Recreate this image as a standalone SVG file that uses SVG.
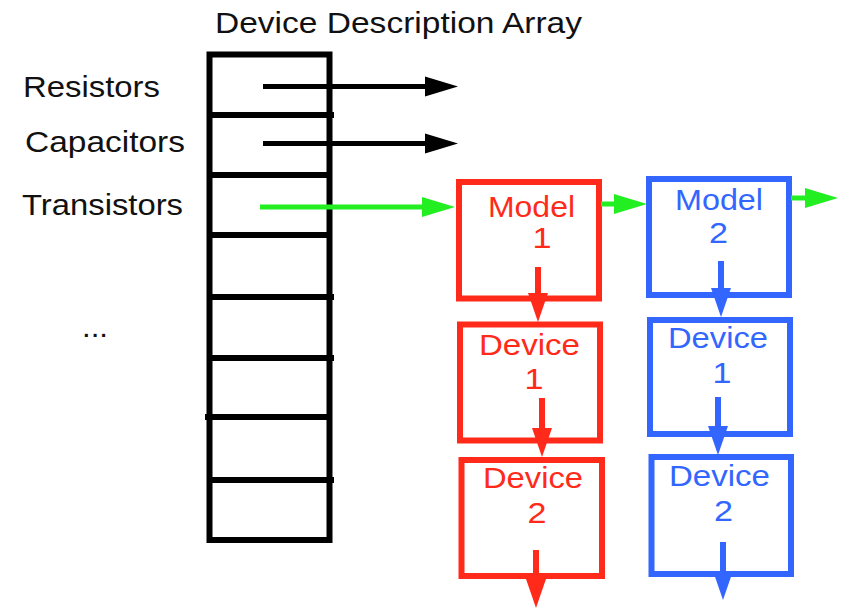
<svg xmlns="http://www.w3.org/2000/svg" width="842" height="610" viewBox="0 0 842 610">
  <style>
    text { font-family: "Liberation Sans", Arial, sans-serif; font-size: 29px; }
    .big { font-size: 30px; }
    .lbl { fill: #111111; }
    .red { fill: #ff2a1a; }
    .blue { fill: #3366ff; }
    .mid { text-anchor: middle; }
    .frame { fill: none; stroke: #000000; stroke-width: 6; }
    .rbox { fill: #ffffff; stroke: #ff2a1a; stroke-width: 6; }
    .bbox { fill: #ffffff; stroke: #3366ff; stroke-width: 6; }
    .k { stroke: #000000; stroke-width: 5; fill: none; }
    .g { stroke: #22ee22; stroke-width: 5; fill: none; }
    .r { stroke: #ff2a1a; stroke-width: 6; fill: none; }
    .b { stroke: #3366ff; stroke-width: 6; fill: none; }
  </style>
  <defs>
    <marker id="headK" markerUnits="userSpaceOnUse" markerWidth="34" markerHeight="20" refX="0" refY="10" orient="auto" overflow="visible">
      <path d="M0,0 L33,10 L0,20 z" fill="#000000"/>
    </marker>
    <marker id="headG" markerUnits="userSpaceOnUse" markerWidth="34" markerHeight="20" refX="0" refY="10" orient="auto" overflow="visible">
      <path d="M0,0 L33,10 L0,20 z" fill="#22ee22"/>
    </marker>
    <marker id="headR" markerUnits="userSpaceOnUse" markerWidth="30" markerHeight="20" refX="0" refY="10" orient="auto" overflow="visible">
      <path d="M0,0 L29,10 L0,20 z" fill="#ff2a1a"/>
    </marker>
    <marker id="headB" markerUnits="userSpaceOnUse" markerWidth="30" markerHeight="20" refX="0" refY="10" orient="auto" overflow="visible">
      <path d="M0,0 L29,10 L0,20 z" fill="#3366ff"/>
    </marker>
  </defs>

  <!-- title -->
  <text class="lbl big" x="215" y="33" textLength="367" lengthAdjust="spacingAndGlyphs">Device Description Array</text>

  <!-- device description array -->
  <g id="array">
    <rect class="frame" x="209.5" y="54.5" width="120" height="485.5"/>
    <line class="frame" x1="209.5" y1="115" x2="334" y2="115"/>
    <line class="frame" x1="209.5" y1="175" x2="331" y2="175"/>
    <line class="frame" x1="209.5" y1="235" x2="331" y2="235"/>
    <line class="frame" x1="209.5" y1="297" x2="334" y2="297"/>
    <line class="frame" x1="209.5" y1="358" x2="334" y2="358"/>
    <line class="frame" x1="205" y1="417" x2="331" y2="417"/>
    <line class="frame" x1="209.5" y1="480" x2="334" y2="480"/>
  </g>

  <!-- row labels -->
  <g id="labels">
    <text class="lbl big" x="23" y="97" textLength="137" lengthAdjust="spacingAndGlyphs">Resistors</text>
    <text class="lbl big" x="25" y="152" textLength="160" lengthAdjust="spacingAndGlyphs">Capacitors</text>
    <text class="lbl big" x="22" y="215" textLength="161" lengthAdjust="spacingAndGlyphs">Transistors</text>
    <text class="lbl" x="82" y="337" textLength="26" lengthAdjust="spacingAndGlyphs">...</text>
  </g>

  <!-- model 1 chain -->
  <g id="model1">
    <rect class="rbox" x="459" y="182" width="140" height="116.5"/>
    <text class="red" x="488" y="217" textLength="87" lengthAdjust="spacingAndGlyphs">Model</text>
    <text class="red mid" x="542" y="248" textLength="19" lengthAdjust="spacingAndGlyphs">1</text>
  </g>
  <g id="m1device1">
    <rect class="rbox" x="460" y="324.5" width="140" height="116"/>
    <text class="red" x="479" y="355" textLength="101" lengthAdjust="spacingAndGlyphs">Device</text>
    <text class="red mid" x="534" y="389" textLength="19" lengthAdjust="spacingAndGlyphs">1</text>
  </g>
  <g id="m1device2">
    <rect class="rbox" x="461.5" y="460" width="140.5" height="116"/>
    <text class="red" x="483" y="488" textLength="100" lengthAdjust="spacingAndGlyphs">Device</text>
    <text class="red mid" x="537" y="523" textLength="19" lengthAdjust="spacingAndGlyphs">2</text>
  </g>

  <!-- model 2 chain -->
  <g id="model2">
    <rect class="bbox" x="649" y="179" width="140" height="116"/>
    <text class="blue" x="675" y="210" textLength="88" lengthAdjust="spacingAndGlyphs">Model</text>
    <text class="blue mid" x="718.5" y="243" textLength="19" lengthAdjust="spacingAndGlyphs">2</text>
  </g>
  <g id="m2device1">
    <rect class="bbox" x="650" y="320" width="140" height="114"/>
    <text class="blue" x="668" y="348" textLength="100" lengthAdjust="spacingAndGlyphs">Device</text>
    <text class="blue mid" x="722" y="383" textLength="19" lengthAdjust="spacingAndGlyphs">1</text>
  </g>
  <g id="m2device2">
    <rect class="bbox" x="651.5" y="457" width="139.5" height="117"/>
    <text class="blue" x="669" y="486" textLength="101" lengthAdjust="spacingAndGlyphs">Device</text>
    <text class="blue mid" x="723.5" y="521" textLength="19" lengthAdjust="spacingAndGlyphs">2</text>
  </g>

  <!-- connectors -->
  <g id="connectors">
    <line class="k" x1="263" y1="86.5" x2="425" y2="86.5" marker-end="url(#headK)"/>
    <line class="k" x1="263" y1="143.5" x2="425" y2="143.5" marker-end="url(#headK)"/>
    <line class="g" x1="260" y1="207" x2="422" y2="207" marker-end="url(#headG)"/>
    <line class="g" x1="601" y1="204" x2="614" y2="204" marker-end="url(#headG)"/>
    <line class="g" x1="791" y1="198" x2="805" y2="198" marker-end="url(#headG)"/>
    <line class="r" x1="538" y1="267" x2="538" y2="293" marker-end="url(#headR)"/>
    <line class="r" x1="542" y1="398" x2="542" y2="428" marker-end="url(#headR)"/>
    <line class="r" x1="536" y1="550" x2="536" y2="579" marker-end="url(#headR)"/>
    <line class="b" x1="721" y1="261" x2="721" y2="288" marker-end="url(#headB)"/>
    <line class="b" x1="718" y1="397" x2="718" y2="426" marker-end="url(#headB)"/>
    <line class="b" x1="723" y1="542" x2="723" y2="571" marker-end="url(#headB)"/>
  </g>
</svg>
